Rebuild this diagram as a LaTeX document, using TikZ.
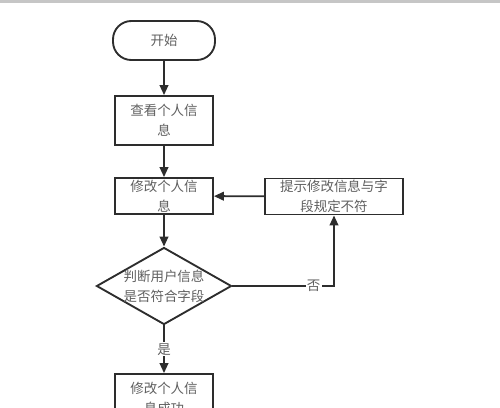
\documentclass[tikz,border=0pt]{standalone}
\usepackage{fontspec}
\setmainfont{Noto Sans CJK SC}
\usetikzlibrary{shapes.geometric,arrows.meta,positioning}
\definecolor{LineGray}{RGB}{45,45,45}
\definecolor{TextGray}{RGB}{95,95,95}
\tikzset{
  termbox/.style={draw=LineGray,rounded corners=0.55cm,line width=1.6pt,
                  minimum width=3.06cm,minimum height=1.17cm,
                  text=TextGray,align=center},
  procbox/.style={draw=LineGray,line width=1.6pt,minimum width=2.94cm,
                  minimum height=1.08cm,inner sep=1pt,
                  text=TextGray,align=center},
  decbox/.style={draw=LineGray,diamond,aspect=1.75,line width=1.6pt,
                 minimum width=4.05cm,minimum height=2.31cm,inner sep=-3pt,
                 text=TextGray,align=center},
  arr/.style={-{Triangle[length=0.3cm,width=0.26cm]},draw=LineGray,line width=1.6pt},
  lbl/.style={fill=white,text=TextGray,inner sep=1pt},
}
\begin{document}
\begin{tikzpicture}[x=0.03cm,y=-0.03cm,
    font=\fontsize{11.5}{17}\selectfont]
  \useasboundingbox (0,0) rectangle (500,407);
  \clip (0,0) rectangle (500,407);
  \fill[gray!45] (0,0) rectangle (500,2.5);

  \node[termbox] (start) at (164,40.5) {开始};
  \node[procbox, minimum height=1.47cm] (view) at (164,120.5) {查看个人信\\息};
  \node[procbox] (edit) at (164,196) {修改个人信\\息};
  \node[procbox, minimum width=4.14cm] (hint) at (334,196.5) {提示修改信息与字\\段规定不符};
  \node[decbox] (check) at (164,286) {判断用户信息\\是否符合字段};
  \node[procbox, minimum height=1.47cm] (done) at (164,398.5) {修改个人信\\息成功};

  \draw[arr] (start) -- (view);
  \draw[arr] (view) -- (edit);
  \draw[arr] (edit) -- (check);
  \draw[arr] (hint) -- (edit);
  \draw[arr] (check.east) -| node[lbl, pos=0.4] {否} (hint.south);
  \draw[arr] (check) -- node[lbl, pos=0.5] {是} (done);
\end{tikzpicture}
\end{document}
